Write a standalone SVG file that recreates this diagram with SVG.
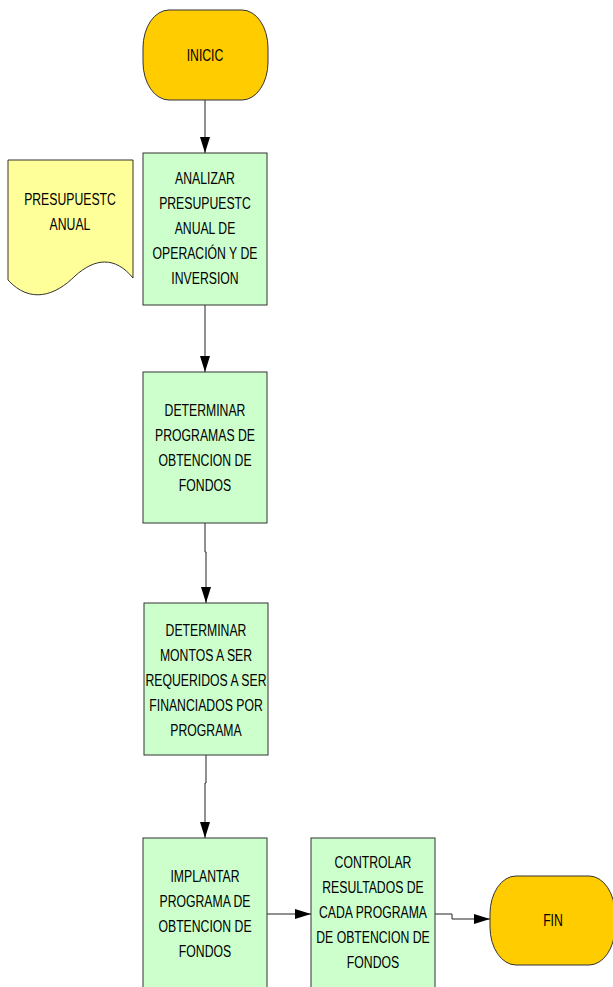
<svg xmlns="http://www.w3.org/2000/svg" width="613" height="987" viewBox="0 0 613 987">
<style>
.term{fill:#FFCC00;stroke:#333;stroke-width:1}
.proc{fill:#CCFFCC;stroke:#333;stroke-width:1}
.doc{fill:#FFFF99;stroke:#333;stroke-width:1}
.t{font-family:"Liberation Sans",Arial,sans-serif;font-size:17px;fill:#000;text-anchor:middle}
.c{fill:none;stroke:#222;stroke-width:1}
</style>
<defs>
<marker id="ah" viewBox="0 0 16 10" refX="16" refY="5" markerWidth="16" markerHeight="10" markerUnits="userSpaceOnUse" orient="auto">
<path d="M0,0 L16,5 L0,10 Z" fill="#000"/>
</marker>
</defs>
<rect width="613" height="987" fill="#fff"/>
<g id="connectors">
<path class="c" d="M205,100 V153" marker-end="url(#ah)"/>
<path class="c" d="M205,305 V372" marker-end="url(#ah)"/>
<path class="c" d="M205,523 V552 H206 V603" marker-end="url(#ah)"/>
<path class="c" d="M206,755 V783 H205 V838" marker-end="url(#ah)"/>
<path class="c" d="M267,914 H311" marker-end="url(#ah)"/>
<path class="c" d="M435,914 H452 V919 H490" marker-end="url(#ah)"/>
</g>
<g id="inicio">
<rect class="term" x="143" y="10" width="125" height="90" rx="26" ry="38"/>
<g transform="translate(205,61) scale(0.72,1)"><text class="t" x="0" y="0">INICIC</text></g>
</g>
<g id="presupuesto">
<path class="doc" d="M8,160 H133 V278 C115,256 95,258 75,276 C55,296 30,304 8,280 Z"/>
<g transform="translate(70,0) scale(0.72,1)"><text class="t" x="0" y="205">PRESUPUESTC</text><text class="t" x="0" y="230">ANUAL</text></g>
</g>
<g id="analizar">
<rect class="proc" x="143" y="153" width="124" height="152"/>
<g transform="translate(205,0) scale(0.72,1)">
<text class="t" x="0" y="184">ANALIZAR</text>
<text class="t" x="0" y="209">PRESUPUESTC</text>
<text class="t" x="0" y="234">ANUAL DE</text>
<text class="t" x="0" y="259">OPERACIÓN Y DE</text>
<text class="t" x="0" y="284">INVERSION</text>
</g>
</g>
<g id="determinar-programas">
<rect class="proc" x="143" y="372" width="124" height="151"/>
<g transform="translate(205,0) scale(0.72,1)">
<text class="t" x="0" y="416">DETERMINAR</text>
<text class="t" x="0" y="441">PROGRAMAS DE</text>
<text class="t" x="0" y="466">OBTENCION DE</text>
<text class="t" x="0" y="491">FONDOS</text>
</g>
</g>
<g id="determinar-montos">
<rect class="proc" x="144" y="603" width="124" height="152"/>
<g transform="translate(206,0) scale(0.72,1)">
<text class="t" x="0" y="636">DETERMINAR</text>
<text class="t" x="0" y="661">MONTOS A SER</text>
<text class="t" x="0" y="686">REQUERIDOS A SER</text>
<text class="t" x="0" y="711">FINANCIADOS POR</text>
<text class="t" x="0" y="736">PROGRAMA</text>
</g>
</g>
<g id="implantar">
<rect class="proc" x="143" y="838" width="124" height="155"/>
<g transform="translate(205,0) scale(0.72,1)">
<text class="t" x="0" y="882">IMPLANTAR</text>
<text class="t" x="0" y="907">PROGRAMA DE</text>
<text class="t" x="0" y="932">OBTENCION DE</text>
<text class="t" x="0" y="957">FONDOS</text>
</g>
</g>
<g id="controlar">
<rect class="proc" x="311" y="838" width="124" height="155"/>
<g transform="translate(373,0) scale(0.72,1)">
<text class="t" x="0" y="868">CONTROLAR</text>
<text class="t" x="0" y="893">RESULTADOS DE</text>
<text class="t" x="0" y="918">CADA PROGRAMA</text>
<text class="t" x="0" y="943">DE OBTENCION DE</text>
<text class="t" x="0" y="968">FONDOS</text>
</g>
</g>
<g id="fin">
<rect class="term" x="490" y="876" width="125" height="89" rx="26" ry="38"/>
<g transform="translate(553,926) scale(0.72,1)"><text class="t" x="0" y="0">FIN</text></g>
</g>
</svg>
